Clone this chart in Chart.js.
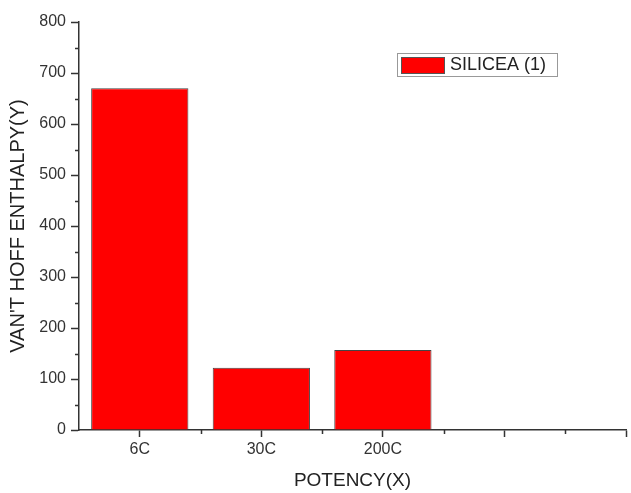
<!DOCTYPE html>
<html>
<head>
<meta charset="utf-8">
<script src="https://cdn.jsdelivr.net/npm/chart.js@4"></script>
<style>
  html, body { margin: 0; padding: 0; background: #fff; }
  #wrap { width: 631px; height: 493px; }
</style>
</head>
<body>
<div id="wrap"><canvas id="grafico"></canvas></div>
<script>
const categorias = ['6C', '30C', '200C'];
const valores = [670, 122, 157];
const nombreSerie = 'SILICEA (1)';
const ticksY = [0, 100, 200, 300, 400, 500, 600, 700, 800];

const ejeColor = '#333';
const fuente = "'Liberation Sans', Arial, sans-serif";

// pone cada categoria en 1, 2, 3 del eje lineal
const puntos = categorias.map((c, i) => ({ x: i + 1, y: valores[i] }));

// ticks menores (cortos) al estilo Origin
const ticksMenores = {
    id: 'ticksMenores',
    afterDraw(chart) {
        const ctx = chart.ctx;
        const x = chart.scales.x;
        const y = chart.scales.y;
        ctx.save();
        ctx.strokeStyle = ejeColor;
        ctx.lineWidth = 1.5;
        ctx.beginPath();
        y.ticks.forEach(t => {
            if (t.value % 100 !== 0) {
                const py = Math.round(y.getPixelForValue(t.value)) + 0.5;
                ctx.moveTo(x.left - 4, py);
                ctx.lineTo(x.left, py);
            }
        });
        x.ticks.forEach(t => {
            if (!Number.isInteger(t.value) && t.value > 0.6) {
                const px = Math.round(x.getPixelForValue(t.value)) + 0.5;
                ctx.moveTo(px, y.bottom);
                ctx.lineTo(px, y.bottom + 4);
            }
        });
        ctx.stroke();
        ctx.restore();
    }
};

// leyenda con recuadro dentro del area
const leyenda = {
    id: 'leyenda',
    afterDraw(chart) {
        const ctx = chart.ctx;
        const a = chart.chartArea;
        const ds = chart.data.datasets[0];
        const bx = a.left + 318, by = a.top + 31, bw = 160, bh = 23;
        ctx.save();
        ctx.fillStyle = '#fff';
        ctx.fillRect(bx, by, bw, bh);
        ctx.strokeStyle = '#999';
        ctx.lineWidth = 1;
        ctx.strokeRect(bx + 0.5, by + 0.5, bw, bh);
        ctx.fillStyle = ds.backgroundColor;
        ctx.fillRect(bx + 4, by + 4, 43, 16);
        ctx.strokeStyle = '#555';
        ctx.strokeRect(bx + 4.5, by + 4.5, 43, 16);
        ctx.fillStyle = '#222';
        ctx.font = '18px ' + fuente;
        ctx.textBaseline = 'middle';
        ctx.fillText(ds.label, bx + 53, by + bh / 2 + 1);
        ctx.restore();
    }
};

const esMayorX = c => c.tick && Number.isInteger(c.tick.value);
const esMayorY = c => c.tick && c.tick.value % 100 === 0;

const grafico = document.getElementById('grafico');
new Chart(grafico, {
    type: 'bar',
    data: {
        datasets: [{
            label: nombreSerie,
            data: puntos,
            backgroundColor: '#ff0000',
            borderColor: '#444',
            borderWidth: 1,
            barPercentage: 1,
            // los ticks van cada 0.5, asi que 1.6 de ese paso = 0.8 de cada categoria
            categoryPercentage: 1.6
        }]
    },
    options: {
        responsive: true,
        maintainAspectRatio: false,
        animation: false,
        layout: { padding: { left: 0, right: 5, top: 22, bottom: 0 } },
        plugins: {
            legend: { display: false },
            tooltip: { enabled: false }
        },
        scales: {
            x: {
                type: 'linear',
                min: 0.5,
                max: 5,
                offset: false,
                border: { color: ejeColor, width: 1.5 },
                grid: {
                    offset: false,
                    drawOnChartArea: false,
                    tickLength: 7,
                    tickWidth: 1.5,
                    tickColor: c => esMayorX(c) ? ejeColor : 'rgba(0,0,0,0)'
                },
                ticks: {
                    stepSize: 0.5,
                    autoSkip: false,
                    maxRotation: 0,
                    padding: 3,
                    color: '#333',
                    font: { family: fuente, size: 16 },
                    callback: v => Number.isInteger(v) && categorias[v - 1] ? categorias[v - 1] : ''
                },
                title: {
                    display: true,
                    text: 'POTENCY(X)',
                    color: '#222',
                    font: { family: fuente, size: 19 },
                    padding: { top: 0, bottom: 1 }
                },
                afterFit: s => { s.height = 63; }
            },
            y: {
                min: 0,
                max: 800,
                border: { color: ejeColor, width: 1.5 },
                grid: {
                    drawOnChartArea: false,
                    tickLength: 8,
                    tickWidth: 1.5,
                    tickColor: c => esMayorY(c) ? ejeColor : 'rgba(0,0,0,0)'
                },
                ticks: {
                    stepSize: 50,
                    autoSkip: false,
                    padding: 5,
                    color: '#333',
                    font: { family: fuente, size: 16 },
                    callback: v => ticksY.includes(v) ? String(v) : ''
                },
                title: {
                    display: true,
                    text: "VAN'T HOFF ENTHALPY(Y)",
                    color: '#222',
                    font: { family: fuente, size: 20 },
                    padding: { top: 6, bottom: 0 }
                },
                afterFit: s => { s.width = 79; }
            }
        }
    },
    plugins: [ticksMenores, leyenda]
});
</script>
</body>
</html>
